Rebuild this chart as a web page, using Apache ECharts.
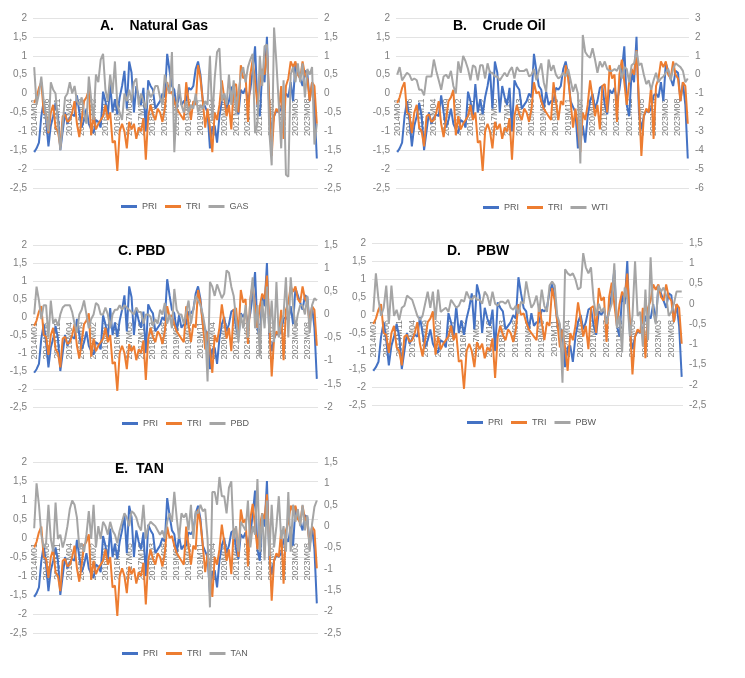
<!DOCTYPE html>
<html>
<head>
<meta charset="utf-8">
<script src="https://cdn.jsdelivr.net/npm/echarts@6/dist/echarts.min.js"></script>
<style>
html, body { margin: 0; padding: 0; background: #fff; }
#main { width: 745px; height: 678px; }
</style>
</head>
<body>
<div id="main"></div>
<script>
// monthly categories 2014M01 .. 2023M12
var months = [];
for (var yr = 2014; yr <= 2023; yr++) {
    for (var mo = 1; mo <= 12; mo++) {
        months.push(yr + 'M' + (mo < 10 ? '0' + mo : mo));
    }
}

// shared series
var PRI = [
    -1.55,-1.45,-1.3,-0.6,-0.2,-0.7,-1.4,-0.85,-0.6,-0.25,
    -0.6,-1.5,-1.0,-0.5,-0.8,-0.65,-0.55,-0.6,-0.05,-0.5,
    -0.9,-0.7,-0.4,-0.8,-0.95,-1.05,-0.7,-0.75,-0.9,0.05,
    -0.2,-0.6,0.25,-0.5,-0.15,-0.55,-0.1,0.2,0.6,-0.4,
    0.85,0.55,-0.5,0.2,-0.1,-0.3,0.15,-1.0,0.35,0.2,
    0.1,-0.4,-0.3,-0.2,0.0,-0.1,1.05,0.6,0.2,0.1,
    -0.4,0.05,-0.3,-0.2,-0.2,0.15,0.1,0.2,0.65,0.85,
    0.5,-0.2,-0.35,-0.5,-1.45,-0.9,-0.85,-1.3,-0.6,-0.2,
    0.0,-0.4,-0.2,0.15,0.2,-0.3,-0.55,0.1,0.0,0.15,
    -0.2,0.1,0.6,1.25,-0.3,-0.6,0.55,0.3,1.5,-0.5,
    -0.95,-0.6,-0.45,-0.5,-0.4,-0.05,0.0,-0.1,0.3,-0.2,
    0.8,0.6,0.4,0.2,0.6,0.55,-0.2,0.3,-0.3,-1.72
];
var TRI = [
    -0.25,-0.1,0.15,0.3,-0.5,-0.55,-1.05,-0.5,-0.3,-0.9,
    -1.0,-1.4,-0.6,-0.55,-0.75,-0.7,-0.5,-0.2,-0.8,-1.15,
    -0.7,-0.2,-0.1,0.1,-1.1,-0.6,-0.95,-0.8,-0.7,-0.6,
    -0.3,-0.7,-0.5,-1.3,-1.25,-2.05,-1.0,-0.8,-1.0,-1.45,
    -0.75,-0.95,-0.8,-1.2,-0.9,-1.0,-0.65,-1.75,-0.6,-0.3,
    -0.55,-0.7,-0.4,-0.5,-0.75,-0.4,0.3,0.0,0.05,-0.2,
    -0.4,-0.5,-0.6,-0.7,0.3,-0.2,-0.7,-0.2,-0.3,0.75,
    0.4,-0.2,-0.9,-0.4,-0.9,-1.55,-0.5,-0.7,-0.3,0.35,
    -0.1,-0.6,-0.3,-0.95,0.2,0.25,-0.5,0.75,0.4,0.5,
    -0.75,0.5,0.9,0.3,-0.3,0.3,0.65,0.5,1.15,-0.2,
    -1.65,-0.6,-0.4,-0.5,0.2,-1.2,0.2,0.4,0.85,0.7,
    0.85,0.5,0.4,0.85,0.5,0.4,-0.2,0.3,0.2,-0.8
];

// comparison series (right axis of each panel)
var GAS = [
    0.7,-0.3,0.0,0.45,-0.2,-0.6,-1.0,0.3,0.1,0.0,
    -0.8,-1.5,-0.8,-0.1,0.0,0.3,0.0,0.2,-0.2,-0.3,
    -0.1,-0.5,-0.8,0.45,-0.15,-0.7,0.5,0.3,0.9,1.05,
    0.1,-0.2,0.5,0.0,0.85,-0.3,-0.5,-0.7,0.0,-0.2,
    0.1,-0.2,0.3,0.4,-0.3,0.0,-0.2,-0.4,0.1,-0.1,
    0.0,0.2,0.2,-0.1,-0.3,0.5,0.2,0.0,1.1,-1.55,
    -0.3,0.25,-0.3,-0.5,-0.2,-0.5,-0.3,-0.4,0.0,-0.5,
    -0.3,-0.4,-0.2,-0.3,1.0,-0.7,0.4,1.1,1.2,-0.2,
    0.0,-0.3,0.5,-0.3,0.35,-0.5,0.0,0.5,0.7,0.3,
    0.7,0.9,1.05,-1.05,-0.8,1.0,0.2,1.25,1.3,-1.0,
    -1.9,1.75,0.8,-0.3,-1.45,0.35,-2.15,-2.2,0.5,0.7,
    0.3,0.8,0.3,0.8,-0.1,0.65,0.5,0.7,-1.35,-0.8
];
var WTI = [
    0.0,0.4,-0.3,-0.1,0.1,0.0,-0.3,-0.2,-0.3,-0.8,
    -0.8,-1.1,-0.1,-0.1,-0.1,0.8,0.2,-0.3,-0.8,-0.1,
    0.0,-0.2,0.2,-0.6,-1.0,0.7,0.1,1.0,0.7,0.3,
    -0.3,0.5,0.4,-0.3,0.5,0.5,-0.2,0.6,0.1,0.1,
    -0.1,-0.1,-0.3,-0.1,0.1,-0.1,0.2,0.4,-0.2,0.4,
    0.2,0.2,0.2,0.3,-0.1,0.0,0.3,-0.3,0.2,0.6,
    -0.4,-0.9,0.8,0.2,0.5,0.0,-0.2,-0.1,0.1,-0.1,
    0.3,-0.3,-0.9,-0.5,-1.0,-4.7,2.1,1.2,1.0,0.9,
    1.4,0.8,0.1,0.7,0.4,0.7,0.3,0.2,0.2,0.3,
    0.2,0.5,-0.2,0.4,0.3,-0.4,0.5,0.6,1.25,0.5,
    0.6,0.0,-0.5,-0.3,-0.8,-0.3,0.1,-0.4,-0.2,-0.1,
    0.1,0.3,-0.3,0.3,0.6,0.5,0.4,0.2,-0.4,-0.2
];
var PBD = [
    0.0,0.6,0.3,-0.1,0.2,0.2,-0.5,0.3,-0.2,-0.1,
    -0.25,0.0,0.15,0.2,0.2,0.2,0.05,-0.2,-0.4,0.0,
    0.1,0.3,0.0,-0.3,-0.1,0.0,0.25,0.2,0.0,0.0,
    0.15,0.0,-0.3,0.0,0.1,0.1,0.2,0.1,0.2,0.15,
    0.1,0.05,0.0,0.15,0.05,0.05,-0.2,0.0,0.0,-0.05,
    -0.25,-0.1,-0.2,0.1,0.0,0.25,-0.2,0.0,-0.3,0.55,
    0.1,0.0,0.0,-0.2,0.05,0.3,-0.2,0.1,0.4,0.3,
    0.2,0.0,-0.3,-1.45,0.7,0.6,0.4,0.65,0.5,0.35,
    0.45,0.95,0.9,0.6,0.4,-0.1,-0.6,0.0,-0.3,0.2,
    -0.5,0.3,0.8,-0.3,0.2,-0.9,0.3,-0.3,0.6,-0.4,
    0.3,-0.6,0.7,-0.5,-0.2,0.0,0.8,-0.5,0.8,0.2,
    -0.3,0.0,0.2,0.2,0.0,0.4,-0.4,0.2,0.35,0.3
];
var PBW = [
    -0.2,0.75,0.1,-0.3,-0.1,0.45,-0.5,0.45,-0.3,-0.15,
    -0.4,-0.1,-0.05,0.2,0.15,0.1,-0.1,-0.3,-0.4,-0.3,
    0.0,0.3,-0.1,0.3,-0.4,0.35,-0.2,-0.15,-0.1,-0.2,
    0.1,0.0,-0.1,-0.05,0.1,0.05,0.3,0.15,0.1,0.2,
    0.1,0.1,0.0,0.3,0.2,-0.05,0.3,0.0,-0.05,0.05,
    0.05,0.0,0.1,-0.1,-0.15,-0.05,-0.25,0.05,0.0,0.55,
    0.2,-0.1,0.0,0.2,-0.2,0.35,-0.05,-0.2,0.45,0.55,
    0.45,-0.3,-0.5,-1.95,0.85,0.75,0.7,0.75,0.6,0.35,
    0.4,1.25,0.9,0.75,0.9,0.1,-0.3,0.0,-0.2,-0.1,
    -0.5,-0.2,0.0,1.0,-0.6,-0.3,-1.2,0.4,0.1,-0.8,
    -0.3,1.05,-0.3,-0.2,-1.05,0.35,-0.9,1.15,-0.2,-0.5,
    0.45,0.3,0.4,0.2,-0.3,-0.2,0.0,0.3,0.3,0.3
];
var TAN = [
    -0.05,1.0,0.5,-0.2,-0.5,-0.4,0.5,-0.3,-0.6,0.55,
    -0.3,-0.2,-0.5,-0.3,0.0,0.4,0.6,0.5,0.2,-0.5,
    -0.4,-0.6,-0.2,0.35,-0.3,0.5,-0.5,0.0,-0.3,0.1,
    0.0,-0.2,0.1,-0.1,-0.2,-0.4,-0.1,0.1,0.3,0.2,
    0.0,0.35,0.3,0.2,0.0,-0.1,0.5,-0.3,0.0,0.1,
    0.05,0.0,-0.1,-0.2,-0.1,-0.3,0.1,0.3,0.1,0.8,
    0.2,-0.3,0.3,0.2,0.3,-0.1,0.5,-0.3,0.35,0.3,
    0.5,0.35,0.4,-0.3,-1.9,0.8,0.8,0.5,1.15,0.7,
    0.7,0.3,0.9,1.05,-0.3,0.0,-0.6,0.1,0.0,-0.1,
    0.6,-0.5,0.0,-0.2,1.1,-0.6,0.3,-0.8,0.6,-0.7,
    0.5,-0.5,0.0,0.7,-0.3,0.0,-0.6,0.8,-0.6,0.5,
    0.1,0.4,0.0,0.5,-0.1,0.25,-0.6,0.05,0.45,0.6
];

// axis tick values
var leftTicks = [-2.5,-2,-1.5,-1,-0.5,0,0.5,1,1.5,2];
var gasTicks  = [-2.5,-2,-1.5,-1,-0.5,0,0.5,1,1.5,2];
var wtiTicks  = [-6,-5,-4,-3,-2,-1,0,1,2,3];
var pbdTicks  = [-2,-1.5,-1,-0.5,0,0.5,1,1.5];
var pbwTicks  = [-2.5,-2,-1.5,-1,-0.5,0,0.5,1,1.5];
var tanTicks  = [-2.5,-2,-1.5,-1,-0.5,0,0.5,1,1.5];

var COLOR_PRI = '#4472C4', COLOR_TRI = '#ED7D31', COLOR_CMP = '#A5A5A5';

var panels = [
    {title: 'A.    Natural Gas', name: 'GAS', data: GAS, ticks: gasTicks,
     grid: {left: 33, top: 18, width: 285, height: 170}, tPos: [100, 19], lPos: [121, 202]},
    {title: 'B.    Crude Oil', name: 'WTI', data: WTI, ticks: wtiTicks,
     grid: {left: 396, top: 18, width: 293, height: 170}, tPos: [453, 19], lPos: [483, 203]},
    {title: 'C. PBD', name: 'PBD', data: PBD, ticks: pbdTicks,
     grid: {left: 33, top: 245, width: 285, height: 162}, tPos: [118, 244], lPos: [122, 419]},
    {title: 'D.    PBW', name: 'PBW', data: PBW, ticks: pbwTicks,
     grid: {left: 372, top: 243, width: 311, height: 162}, tPos: [447, 244], lPos: [467, 418]},
    {title: 'E.  TAN', name: 'TAN', data: TAN, ticks: tanTicks,
     grid: {left: 33, top: 462, width: 285, height: 171}, tPos: [115, 462], lPos: [122, 649]}
];

function comma(v) {
    return String(v).replace('.', ',');
}

function lineSeries(name, data, color, xi, yi) {
    return {
        name: name, type: 'line', data: data,
        xAxisIndex: xi, yAxisIndex: yi,
        showSymbol: false, symbol: 'none',
        lineStyle: {color: color, width: 2},
        itemStyle: {color: color},
        animation: false
    };
}

var option = {
    backgroundColor: '#ffffff',
    animation: false,
    title: [], legend: [], grid: [], xAxis: [], yAxis: [], series: []
};

var labelColor = '#7f7f7f';
var fontFamily = '"Liberation Sans", Arial, sans-serif';

panels.forEach(function (p, i) {
    var g = p.grid;
    var lmin = leftTicks[0], lmax = leftTicks[leftTicks.length - 1];
    // month labels hang from the zero line, as in the original
    var zeroFromBottom = g.height * (0 - lmin) / (lmax - lmin);
    option.grid.push({left: g.left, top: g.top, width: g.width, height: g.height,
        containLabel: false, outerBoundsMode: 'none'});
    option.title.push({
        text: p.title, left: p.tPos[0], top: p.tPos[1], padding: 0,
        textStyle: {fontSize: 14, fontWeight: 'bold', color: '#000', fontFamily: fontFamily}
    });
    option.legend.push({
        data: ['PRI', 'TRI', p.name], left: p.lPos[0], top: p.lPos[1], padding: 0,
        icon: 'rect', itemWidth: 16, itemHeight: 3, itemGap: 8,
        textStyle: {fontSize: 9, color: '#595959', fontFamily: fontFamily}
    });
    option.xAxis.push({
        type: 'category', gridIndex: i, data: months, boundaryGap: true,
        axisLine: {show: false, onZero: false},
        axisTick: {show: false},
        splitLine: {show: false},
        axisLabel: {interval: 4, rotate: 90, fontSize: 9, margin: 5 - zeroFromBottom,
            color: labelColor, fontFamily: fontFamily}
    });
    option.yAxis.push({
        type: 'value', gridIndex: i, position: 'left',
        min: lmin, max: lmax, interval: leftTicks[1] - leftTicks[0],
        axisLine: {show: false}, axisTick: {show: false},
        splitLine: {show: true, lineStyle: {color: '#e3e3e3', width: 1}},
        axisLabel: {fontSize: 10, margin: 6, color: labelColor, fontFamily: fontFamily, formatter: comma}
    });
    option.yAxis.push({
        type: 'value', gridIndex: i, position: 'right',
        min: p.ticks[0], max: p.ticks[p.ticks.length - 1], interval: p.ticks[1] - p.ticks[0],
        axisLine: {show: false}, axisTick: {show: false},
        splitLine: {show: false},
        axisLabel: {fontSize: 10, margin: 6, color: labelColor, fontFamily: fontFamily, formatter: comma}
    });
    option.series.push(lineSeries('PRI', PRI, COLOR_PRI, i, i * 2));
    option.series.push(lineSeries('TRI', TRI, COLOR_TRI, i, i * 2));
    option.series.push(lineSeries(p.name, p.data, COLOR_CMP, i, i * 2 + 1));
});

var myChart = echarts.init(document.getElementById('main'));
myChart.setOption(option);
</script>
</body>
</html>
